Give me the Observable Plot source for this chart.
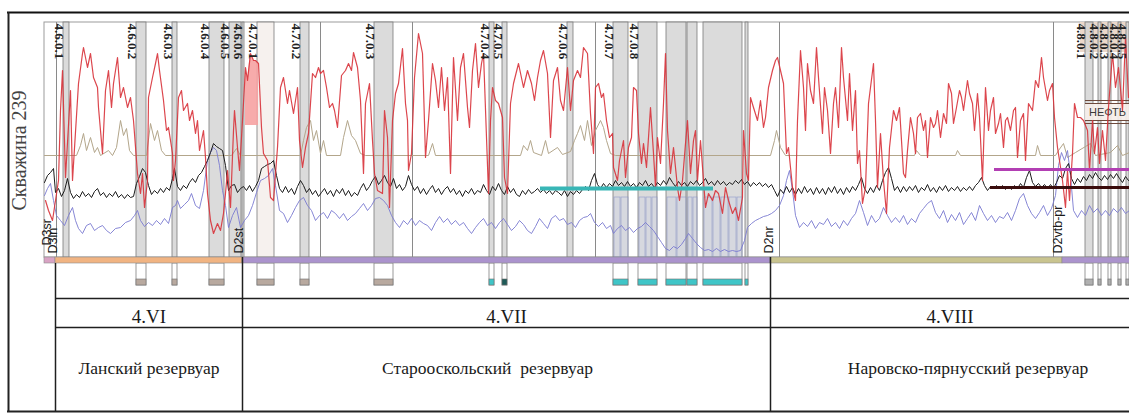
<!DOCTYPE html>
<html><head><meta charset="utf-8">
<script src="https://cdn.jsdelivr.net/npm/d3@7"></script>
<script src="https://cdn.jsdelivr.net/npm/@observablehq/plot@0.6"></script>
<style>
body{margin:0;background:#fff;}
#wrap{width:1129px;height:414px;overflow:hidden;}
</style></head><body><div id="wrap"></div>
<script>
// ===== DATA =====
// depth (arbitrary units along the well), log amplitude (track units 0..235)
const redLog = [[45,57],[48,47],[52,37],[55,57],[58,77],[60,147],[62,187],[65,80],[70,167],[72,77],[78,174],[82,204],[83,210],[87,190],[90,204],[93,180],[97,170],[98,150],[102,104],[105,167],[108,187],[111,150],[113,174],[117,200],[120,160],[123,170],[127,150],[130,160],[133,137],[137,84],[140,64],[142,84],[144,50],[147,77],[148,160],[152,180],[155,194],[157,204],[159,187],[163,157],[166,127],[168,130],[172,104],[173,77],[175,97],[178,160],[181,167],[183,147],[187,154],[189,137],[192,147],[195,124],[197,137],[199,107],[203,127],[205,100],[207,64],[210,37],[213,24],[217,34],[220,27],[223,44],[225,64],[227,87],[230,50],[233,127],[234,147],[237,110],[239,87],[242,137],[245,190],[247,177],[250,204],[253,197],[255,197],[258,194],[261,130],[263,104],[267,97],[270,60],[273,57],[277,110],[280,170],[283,180],[287,154],[289,167],[293,144],[297,170],[299,117],[302,90],[305,110],[308,124],[312,184],[315,180],[318,190],[320,184],[323,187],[326,170],[329,150],[332,154],[334,147],[337,130],[341,182],[345,187],[348,194],[351,187],[353,205],[357,190],[360,157],[363,84],[365,154],[369,174],[372,117],[374,84],[377,67],[382,64],[384,147],[387,120],[389,50],[392,137],[395,164],[398,174],[402,209],[405,154],[407,137],[408,87],[411,104],[414,180],[418,224],[422,204],[425,100],[428,137],[432,194],[435,177],[438,150],[441,190],[444,147],[447,180],[450,84],[453,200],[457,137],[460,190],[463,204],[467,150],[469,130],[472,187],[475,214],[478,170],[481,194],[483,204],[486,120],[488,64],[490,137],[492,170],[495,157],[498,154],[502,140],[504,80],[507,64],[510,154],[513,174],[518,194],[523,170],[527,187],[531,174],[534,157],[537,180],[540,197],[543,207],[547,184],[550,120],[553,177],[557,190],[560,157],[563,147],[567,190],[570,147],[573,177],[577,187],[580,180],[583,210],[587,204],[590,144],[593,104],[595,170],[598,174],[601,160],[603,164],[606,137],[609,120],[612,124],[613,90],[617,77],[619,97],[623,117],[625,80],[628,110],[631,120],[633,170],[636,167],[638,124],[641,94],[643,114],[646,90],[650,150],[653,104],[655,70],[657,120],[660,94],[663,154],[665,204],[667,127],[670,84],[673,110],[677,70],[679,57],[682,77],[685,114],[687,137],[690,84],[693,117],[695,127],[697,77],[700,117],[703,77],[705,50],[708,64],[712,57],[715,67],[718,64],[722,44],[725,70],[728,57],[732,44],[735,50],[738,37],[742,60],[743,127],[746,84],[748,77],[750,160],[753,150],[757,137],[760,157],[763,130],[765,140],[768,170],[772,187],[775,197],[777,200],[780,187],[783,174],[786,104],[788,110],[792,70],[795,57],[797,137],[800,207],[803,170],[805,127],[807,194],[810,167],[813,154],[816,210],[818,180],[822,124],[824,170],[827,147],[830,104],[833,154],[835,170],[838,130],[841,210],[843,180],[847,137],[849,184],[852,127],[855,167],[857,94],[859,107],[862,54],[865,70],[868,154],[873,194],[875,137],[877,70],[880,124],[883,77],[886,44],[889,110],[893,147],[896,137],[899,150],[903,84],[905,80],[907,107],[910,140],[913,124],[915,104],[917,140],[920,144],[923,127],[925,137],[927,100],[930,140],[933,130],[935,134],[937,147],[940,120],[943,144],[946,134],[948,174],[951,164],[953,134],[956,150],[959,167],[961,160],[963,147],[967,177],[969,164],[972,154],[974,127],[977,164],[979,140],[982,77],[985,170],[988,127],[990,147],[993,160],[995,124],[998,134],[1000,144],[1003,110],[1005,137],[1007,140],[1010,127],[1013,147],[1015,150],[1017,100],[1020,137],[1023,144],[1025,97],[1028,154],[1032,147],[1035,177],[1038,170],[1041,200],[1043,180],[1047,157],[1049,167],[1052,174],[1054,140],[1057,110],[1059,97],[1062,77],[1065,50],[1067,87],[1069,57],[1072,104],[1074,154],[1077,140],[1080,140],[1083,137],[1087,127],[1089,87],[1092,137],[1094,104],[1097,130],[1099,94],[1102,127],[1105,97],[1108,150],[1112,204],[1115,170],[1118,190],[1122,147],[1125,220],[1128,160]];

const tanLog = [[44,102],[76,102],[80,112],[83,124],[86,107],[90,120],[94,105],[97,110],[100,102],[108,107],[112,102],[116,110],[120,137],[123,122],[126,129],[129,107],[133,102],[146,102],[150,134],[154,117],[157,127],[161,107],[165,102],[231,102],[236,109],[240,102],[300,102],[303,117],[306,130],[310,137],[313,117],[316,127],[320,104],[323,117],[326,102],[340,102],[343,120],[347,137],[351,122],[355,117],[360,104],[365,102],[428,102],[432,114],[435,102],[520,102],[523,112],[527,107],[530,117],[533,105],[541,102],[545,117],[548,104],[557,110],[562,103],[570,106],[574,117],[577,124],[580,132],[584,117],[587,137],[591,112],[595,127],[600,137],[603,130],[606,117],[610,104],[615,102],[770,102],[774,117],[776,127],[780,110],[785,102],[914,102],[916,107],[920,102],[955,102],[957,107],[960,102],[1035,102],[1037,112],[1040,102],[1055,102],[1058,107],[1063,114],[1067,100],[1075,105],[1090,114],[1095,102],[1110,105],[1117,112],[1122,102],[1129,105]];

const blackLog = [[44,75],[47,82],[50,85],[53,89],[55,65],[58,69],[61,61],[64,67],[67,79],[70,65],[73,59],[76,63],[79,60],[82,66],[85,61],[88,64],[91,60],[94,66],[97,69],[100,62],[103,65],[106,60],[109,64],[112,61],[115,66],[118,60],[121,63],[124,59],[127,63],[130,60],[133,61],[136,74],[139,81],[142,89],[145,85],[148,72],[151,63],[154,67],[157,64],[160,69],[163,65],[166,70],[169,67],[172,79],[174,89],[177,71],[180,67],[183,72],[186,69],[189,75],[192,79],[195,75],[198,82],[201,85],[204,91],[207,97],[210,105],[213,114],[216,111],[219,109],[222,107],[225,92],[228,67],[231,72],[234,73],[237,65],[240,69],[243,71],[246,67],[249,72],[252,66],[255,71],[258,77],[261,89],[264,91],[267,93],[270,94],[273,97],[276,82],[279,69],[282,65],[285,71],[288,65],[291,69],[294,63],[297,71],[300,77],[303,72],[306,65],[309,69],[312,63],[315,67],[318,61],[321,65],[324,69],[327,63],[330,67],[333,61],[336,68],[339,64],[342,69],[345,62],[348,67],[351,61],[354,65],[357,62],[360,69],[363,74],[366,67],[369,71],[372,77],[375,81],[378,73],[381,77],[384,82],[387,75],[390,71],[393,79],[396,69],[399,73],[402,67],[405,71],[408,82],[411,73],[414,67],[417,71],[420,64],[423,69],[426,63],[429,68],[432,72],[435,65],[438,69],[441,63],[444,68],[447,71],[450,65],[453,69],[456,63],[459,67],[462,61],[465,67],[468,64],[471,69],[474,63],[477,67],[480,65],[483,73],[486,67],[489,63],[492,71],[495,67],[498,74],[501,67],[504,63],[507,71],[510,65],[513,69],[516,63],[519,61],[522,67],[525,63],[528,68],[531,64],[534,66],[537,69],[540,65],[543,68],[546,64],[549,67],[552,63],[555,67],[558,65],[561,62],[564,67],[567,61],[570,66],[573,63],[576,67],[579,64],[582,68],[585,71],[588,67],[591,77],[594,84],[597,73],[600,69],[603,74],[606,70],[609,74],[612,71],[615,77],[618,72],[621,75],[624,71],[627,76],[630,71],[633,74],[636,70],[639,75],[642,72],[645,77],[648,71],[651,74],[654,70],[657,75],[660,72],[663,77],[666,73],[669,80],[672,75],[675,71],[678,76],[681,72],[684,75],[687,71],[690,76],[693,73],[696,77],[699,72],[702,75],[705,79],[708,73],[711,76],[714,72],[717,77],[720,73],[723,76],[726,72],[729,75],[732,73],[735,77],[738,74],[741,78],[744,73],[747,76],[750,71],[753,75],[756,72],[759,75],[762,71],[765,74],[768,70],[771,73],[774,67],[777,61],[780,68],[783,64],[786,71],[789,65],[792,70],[795,63],[798,69],[801,64],[804,71],[807,65],[810,69],[813,63],[816,70],[819,64],[822,69],[825,63],[828,70],[831,65],[834,71],[837,64],[840,69],[843,63],[846,70],[849,65],[852,71],[855,67],[858,73],[861,80],[864,69],[867,64],[870,70],[873,65],[876,72],[879,67],[882,77],[885,85],[888,90],[891,79],[894,67],[897,71],[900,65],[903,71],[906,66],[909,71],[912,67],[915,72],[918,65],[921,70],[924,67],[927,73],[930,66],[933,70],[936,65],[939,71],[942,67],[945,72],[948,66],[951,70],[954,67],[957,71],[960,66],[963,70],[966,67],[969,71],[972,67],[975,72],[978,75],[981,80],[984,72],[987,67],[990,71],[993,69],[996,72],[999,69],[1002,72],[1005,68],[1008,71],[1011,68],[1014,72],[1017,69],[1020,74],[1023,70],[1026,80],[1029,87],[1032,75],[1035,71],[1038,74],[1041,70],[1044,73],[1047,69],[1050,73],[1053,69],[1056,75],[1059,82],[1062,79],[1065,89],[1068,94],[1071,79],[1074,73],[1077,79],[1080,75],[1083,81],[1086,77],[1089,83],[1092,79],[1095,85],[1098,80],[1101,77],[1104,82],[1107,78],[1110,83],[1113,79],[1116,84],[1119,79],[1122,75],[1125,81],[1128,77]];

const blueLog = [[44,62],[47,69],[50,74],[53,57],[56,42],[60,37],[64,32],[68,42],[72,50],[75,37],[78,29],[82,24],[86,32],[90,34],[94,27],[98,30],[102,32],[106,27],[110,24],[115,29],[120,30],[125,35],[130,37],[134,42],[137,47],[140,37],[144,31],[148,35],[152,32],[156,37],[160,33],[164,39],[168,34],[172,50],[175,52],[177,57],[180,49],[184,53],[188,57],[191,64],[195,52],[199,49],[203,67],[207,97],[210,105],[213,110],[216,107],[219,92],[222,67],[225,52],[228,30],[232,42],[236,50],[240,30],[244,37],[248,42],[252,52],[256,65],[260,77],[264,79],[268,82],[272,89],[275,72],[279,47],[283,44],[287,35],[291,42],[295,50],[299,57],[303,60],[307,52],[311,47],[315,37],[319,42],[323,45],[327,39],[331,47],[335,44],[339,39],[343,44],[347,37],[351,41],[355,44],[359,49],[363,54],[367,47],[371,52],[375,59],[379,60],[383,57],[387,52],[391,42],[395,35],[399,30],[403,37],[407,33],[411,39],[415,32],[419,37],[423,34],[427,32],[431,27],[435,35],[439,41],[443,35],[447,39],[451,33],[455,37],[459,32],[463,35],[467,29],[471,24],[475,30],[479,35],[483,39],[487,32],[491,35],[495,29],[499,35],[503,39],[507,33],[511,27],[515,31],[519,37],[523,33],[527,27],[531,24],[535,31],[539,39],[543,34],[547,29],[551,39],[555,42],[559,37],[563,39],[567,33],[571,35],[575,30],[579,37],[583,40],[587,41],[590,44],[594,35],[598,31],[602,35],[606,29],[610,32],[613,24],[617,29],[621,32],[625,27],[629,30],[633,25],[637,29],[641,31],[645,35],[649,31],[653,27],[657,21],[661,15],[665,9],[669,7],[673,11],[677,9],[681,13],[685,19],[688,24],[692,19],[696,14],[700,10],[704,7],[708,8],[712,6],[716,9],[720,6],[724,8],[728,6],[732,7],[736,6],[740,7],[744,17],[747,30],[751,34],[755,37],[759,39],[763,41],[767,42],[771,44],[775,47],[779,52],[783,62],[786,77],[789,87],[792,67],[795,42],[799,30],[803,35],[807,31],[811,37],[815,29],[819,35],[823,33],[827,39],[831,31],[835,35],[839,29],[843,37],[847,32],[851,39],[855,44],[859,57],[863,45],[867,32],[871,42],[875,35],[879,39],[883,50],[887,42],[891,35],[895,40],[899,35],[903,42],[907,33],[911,39],[915,35],[919,44],[923,49],[927,54],[931,57],[935,45],[939,39],[943,47],[947,35],[951,43],[955,37],[959,45],[963,33],[967,39],[971,45],[975,37],[979,52],[983,44],[987,37],[991,42],[995,35],[999,41],[1003,39],[1007,45],[1011,37],[1015,47],[1019,59],[1023,64],[1027,52],[1031,44],[1035,39],[1039,45],[1043,52],[1047,42],[1051,49],[1055,62],[1058,92],[1061,105],[1064,97],[1067,107],[1070,82],[1073,47],[1077,40],[1081,47],[1085,42],[1089,52],[1093,45],[1097,49],[1101,42],[1105,47],[1109,42],[1113,49],[1117,45],[1121,50],[1125,44],[1129,47]];

// Productive intervals (bands)
const bandNames  = ["4.6.0.1","4.6.0.2","4.6.0.3","4.6.0.4","4.6.0.5","4.6.0.6","4.7.0.1","4.7.0.2","4.7.0.3","4.7.0.4","4.7.0.5","4.7.0.6","4.7.0.7","4.7.0.8","","","","","4.8.0.1","4.8.0.2","4.8.0.3","4.8.0.4","4.8.0.5"];
const bandTops   = [63,136,172,209,229,242,257,300,374,489,502,567,613,638,666,687,703,745,1085,1098,1108,1118,1126];
const bandBases  = [69,146,177,224,241,244,274,309,393,494,507,573,628,657,686,697,742,748,1093,1101,1111,1121,1129];
const bandShade  = ["d","d","d","d","d","d","l","d","d","d","d","d","d","d","d","d","d","d","d","d","d","d","d"];
const bandSample = ["","core","core","core","","","core","core","core","test","test2","","test","test","test","test","test","test","gray","gray","gray","gray","gray"];

// Test sub-intervals (lower part of track)
const subTops  = [614,621,639,646,652,667,677,688,693,704,713,721,729,737];
const subBases = [620,628,645,651,657,676,686,692,697,712,720,728,736,742];
const subLevel = 60;

// Formations
const formationNames = ["D3sr","D3ln","D2st","D2nr","D2vtb-pr"];
const formationLabelDepth = [46,52,238,768,1057];
const stripNames = ["D3sr","D3ln","D2st","D2nr","D2vtb-pr"];
const stripTops  = [44,55,242,770,1062];
const stripBases = [55,242,770,1062,1135];
const boundaryDepths = [56,320,412,595,779,1053];

// Reservoirs (table)
const reservoirIndex = ["4.VI","4.VII","4.VIII"];
const reservoirNames = ["Ланский резервуар","Старооскольский\u00a0 резервуар","Наровско-пярнусский резервуар"];
const reservoirTops  = [55,242,770];
const reservoirBases = [242,770,1129];

// Horizontal markers
const markerTops   = [540,994,990];
const markerBases  = [713,1135,1135];
const markerLevels = [69,88,70];

const wellName = "Скважина 239";
const oilLabel = "НЕФТЬ";

// ===== LAYOUT / STYLE =====
const bandFill = {d:"#d5d5d5", l:"#f4eeeb"};
const sampleFill = {core:"#b8a99f", test:"#3fc5c7", test2:"#1e5b58", gray:"#b0b0b0"};
const stripFill = ["#d9a3c4","#f1b482","#ab93cd","#c9c48f","#ab93cd"];
const markerStroke = ["#38b6b6","#b23fb3","#3a0c0c"];
const markerWidth = [4,3,3];
const nameDx = [0,-19,18];
const serif = "Liberation Serif", sans = "Liberation Sans";
const STRIP_B = -6, BOX_C = -22, BOX_B = -28, ROW1 = -41, ROW2 = -70, ROW3 = -154, FRAME_T = 245;

const P = a => a.map(([d,v]) => ({d, v}));
const red = P(redLog), tan = P(tanLog), black = P(blackLog), blue = P(blueLog);
const bands = bandNames.map((name,i) => ({name, x1:bandTops[i], x2:bandBases[i], shade:bandShade[i], sample:bandSample[i]}));
const subs = subTops.map((t,i)=>({x1:t, x2:subBases[i]}));
const strip = stripNames.map((n,i)=>({n, x1:stripTops[i], x2:stripBases[i], c:stripFill[i]}));
const forms = formationNames.map((n,i)=>({n, d:formationLabelDepth[i], v: i===0 ? 12 : 4}));
const res = reservoirIndex.map((idx,i)=>({idx, name:reservoirNames[i], x1:reservoirTops[i], x2:reservoirBases[i], c:(reservoirTops[i]+reservoirBases[i])/2, dx:nameDx[i]}));
const markers = markerTops.map((t,i)=>({x1:t, x2:markerBases[i], v:markerLevels[i], c:markerStroke[i], w:markerWidth[i]}));

const chart = Plot.plot({
  width:1129, height:414, margin:0,
  x:{domain:[0,1129], range:[0,1129], axis:null},
  y:{domain:[0,235], range:[257,22], axis:null},
  style:{background:"white", overflow:"hidden"},
  marks:[
    // track frame
    Plot.rect([{x1:44,x2:1140,y1:0,y2:235}], {x1:"x1",x2:"x2",y1:"y1",y2:"y2", fill:"white", stroke:"#9c9c9c", strokeWidth:1}),
    // beige label area for 4.8
    Plot.rect([{x1:1080,x2:1140,y1:205,y2:235}], {x1:"x1",x2:"x2",y1:"y1",y2:"y2", fill:"#ecd8ca"}),
    // bands
    Plot.rect(bands, {x1:"x1", x2:"x2", y1:0, y2:235, fill:d=>bandFill[d.shade], fillOpacity:0.85, stroke:"#7a7a7a", strokeWidth:0.8}),
    Plot.ruleX(boundaryDepths, {y1:0, y2:235, stroke:"#8a8a8a", strokeWidth:1}),
    // test sub intervals
    Plot.rect(subs, {x1:"x1", x2:"x2", y1:0, y2:subLevel, fill:"#c8d0ea", fillOpacity:0.25, stroke:"#7f8cc6", strokeOpacity:0.7, strokeWidth:0.7}),
    // oil label
    Plot.rect([{x1:1085,x2:1140,y1:137,y2:154}], {x1:"x1",x2:"x2",y1:"y1",y2:"y2", fill:"#f6eeea", fillOpacity:0.9}),
    Plot.ruleY([157,154,137,134], {x1:1085, x2:1140, stroke:"#6e4a3c", strokeWidth:1.1}),
    Plot.text([oilLabel], {x:1107, y:145.5, text:d=>d, fontSize:11, fontFamily:sans, fill:"#3a3a3a"}),
    // red fill
    Plot.areaY(red.filter(p=>p.d>=243 && p.d<=259), {x:"d", y1:132, y2:"v", fill:"#f6a2a2", fillOpacity:0.9}),
    // curves
    Plot.line(tan, {x:"d", y:"v", stroke:"#b3a68b", strokeWidth:1}),
    Plot.line(blue, {x:"d", y:"v", stroke:"#7a7ad0", strokeWidth:1, strokeOpacity:0.9}),
    Plot.line(black, {x:"d", y:"v", stroke:"#1c1c1c", strokeWidth:1}),
    Plot.line(red, {x:"d", y:"v", stroke:"#d8323a", strokeWidth:1.2, strokeOpacity:0.9}),
    // horizontal markers
    Plot.ruleY(markers, {y:"v", x1:"x1", x2:"x2", stroke:"c", strokeWidth:"w"}),
    // band labels
    Plot.text(bands.filter(d=>d.name), {x:d=>d.x1-4, y:234, text:"name", rotate:90, textAnchor:"start", lineAnchor:"middle", fontSize:13, fontWeight:"bold", fontFamily:serif, fill:"#222"}),
    // formation labels
    Plot.text(forms, {x:"d", y:"v", text:"n", rotate:-90, textAnchor:"start", lineAnchor:"middle", fontSize:12.5, fontFamily:sans, fill:"#1a1a1a"}),
    // hanging sample boxes
    Plot.rect(bands.filter(d=>d.sample), {x1:"x1", x2:"x2", y1:BOX_B, y2:STRIP_B, fill:"white", stroke:"#808080", strokeWidth:0.8}),
    Plot.rect(bands.filter(d=>d.sample), {x1:"x1", x2:"x2", y1:BOX_B, y2:BOX_C, fill:d=>sampleFill[d.sample], stroke:"#6f6f6f", strokeWidth:0.6}),
    // stratigraphic strip
    Plot.rect(strip, {x1:"x1", x2:"x2", y1:STRIP_B, y2:0, fill:"c", stroke:"#8c8c8c", strokeWidth:0.6}),
    // table
    Plot.ruleX([reservoirTops[0]], {y1:STRIP_B, y2:ROW3, stroke:"#1f1f1f", strokeWidth:1.5}),
    Plot.ruleX(reservoirTops.slice(1), {y1:0, y2:ROW3, stroke:"#1f1f1f", strokeWidth:1.5}),
    Plot.ruleY([ROW1, ROW2], {x1:reservoirTops[0], x2:1140, stroke:"#1f1f1f", strokeWidth:1.5}),
    Plot.text(res, {x:"c", y:-59, text:"idx", fontSize:19, fontFamily:serif, fill:"#1a1a1a"}),
    Plot.text(res, {x:d=>d.c + d.dx, y:-111, text:"name", fontSize:17.5, fontFamily:serif, fill:"#1a1a1a"}),
    // outer frame
    Plot.ruleY([FRAME_T], {x1:7, x2:1140, stroke:"#111", strokeWidth:2}),
    Plot.ruleY([ROW3], {x1:7, x2:1140, stroke:"#222", strokeWidth:2}),
    Plot.ruleX([8], {y1:FRAME_T, y2:ROW3, stroke:"#222", strokeWidth:2}),
    // well name
    Plot.text([wellName], {x:19, y:107, text:d=>d, rotate:-90, fontSize:20, fontFamily:serif, fill:"#444"})
  ]
});
document.getElementById("wrap").appendChild(chart);
</script>
</body></html>
